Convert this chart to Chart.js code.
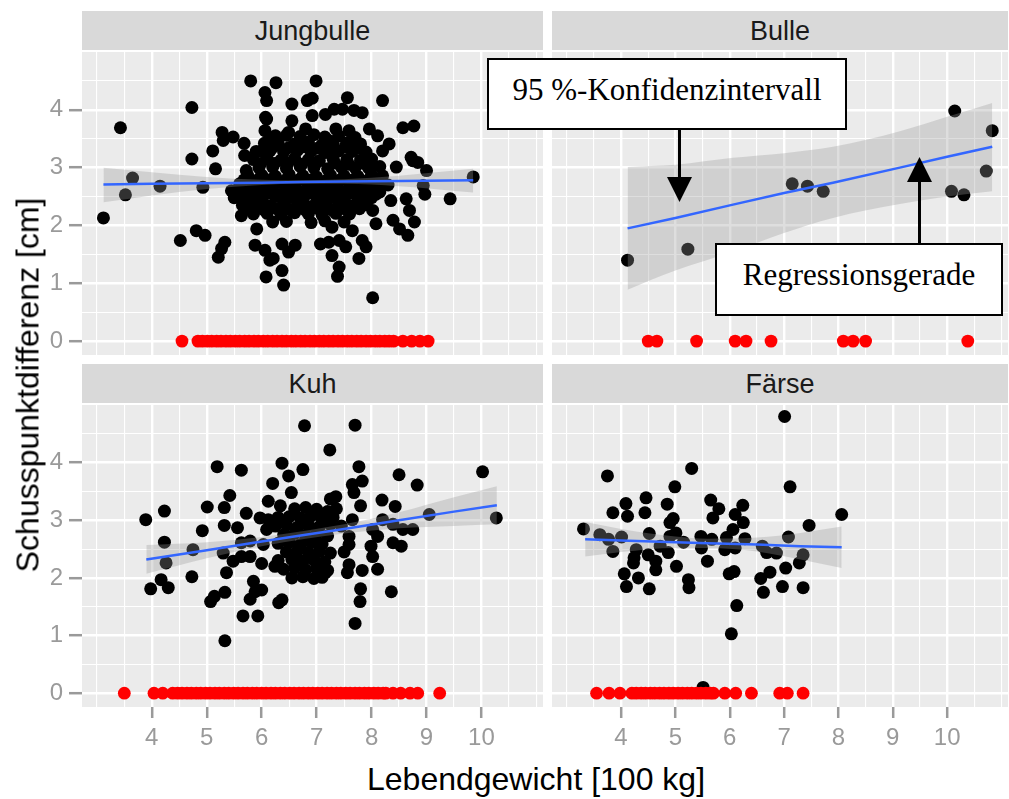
<!DOCTYPE html>
<html>
<head>
<meta charset="utf-8">
<script src="https://cdn.jsdelivr.net/npm/chart.js@4.4.1/dist/chart.umd.min.js"></script>
<style>
  body { margin: 0; background: #fff; }
  #wrap { position: relative; width: 1009px; height: 799px; font-family: "Liberation Sans", Arial, sans-serif; overflow: hidden; }
  canvas { position: absolute; }
  .strip { position: absolute; height: 39px; background: #d9d9d9; color: #1a1a1a; font-size: 27px; line-height: 41px; text-align: center; }
  .box { position: absolute; box-sizing: border-box; border: 2px solid #000; background: #fff; font-family: "Liberation Serif", "Times New Roman", serif; font-size: 31px; line-height: 60px; text-align: center; color: #000; }
  .title { position: absolute; font-size: 32px; color: #000; white-space: nowrap; }
</style>
</head>
<body>
<div id="wrap">
  <div class="strip" style="left:82px;top:11px;width:461px">Jungbulle</div>
  <div class="strip" style="left:552px;top:11px;width:456px">Bulle</div>
  <div class="strip" style="left:82px;top:364px;width:461px">Kuh</div>
  <div class="strip" style="left:552px;top:364px;width:456px">Färse</div>

  <canvas id="jungbulle" width="543" height="303" style="left:0;top:52px"></canvas>
  <canvas id="bulle" width="456" height="303" style="left:552px;top:52px"></canvas>
  <canvas id="kuh" width="543" height="352" style="left:0;top:405px"></canvas>
  <canvas id="faerse" width="456" height="352" style="left:552px;top:405px"></canvas>

  <div class="title" style="left:28px;top:385px;transform:translate(-50%,-50%) rotate(-90deg)">Schusspunktdifferenz [cm]</div>
  <div class="title" style="left:536px;top:760px;line-height:38px;transform:translateX(-50%)">Lebendgewicht [100 kg]</div>

  <div class="box" style="left:487px;top:58px;width:360px;height:72px">95 %-Konfidenzintervall</div>
  <div class="box" style="left:715px;top:243px;width:288px;height:73px">Regressionsgerade</div>
  <svg width="1009" height="799" style="position:absolute;left:0;top:0">
    <line x1="679.5" y1="130" x2="679.5" y2="179" stroke="#000" stroke-width="3"/>
    <polygon points="667,177 692,177 679.5,202" fill="#000"/>
    <line x1="919.5" y1="243" x2="919.5" y2="180" stroke="#000" stroke-width="3"/>
    <polygon points="907,182 932,182 919.5,157" fill="#000"/>
  </svg>
</div>

<script>
// Achsen / Raster
const xLim = [2.73, 11.12];
const yLim = [-0.24, 5.0];
const xMajor = [4, 5, 6, 7, 8, 9, 10];
const xMinor = [3, 3.5, 4.5, 5.5, 6.5, 7.5, 8.5, 9.5, 10.5, 11];
const yMajor = [0, 1, 2, 3, 4];
const yMinor = [0.5, 1.5, 2.5, 3.5, 4.5];

// Jungbulle
const jungbulleBlack = [
  [3.12,2.13],[3.43,3.69],[3.52,2.53],[3.65,2.82],[4.15,2.68],[4.52,1.74],[4.73,4.04],[4.73,3.15],
  [4.81,1.91],[4.93,2.66],[4.97,1.83],[5.11,3.29],[5.16,2.98],[5.21,1.45],[5.27,1.60],[5.33,1.71],
  [5.28,3.61],[5.30,3.47],[5.48,3.53],[5.63,2.17],[5.66,2.72],[5.68,3.42],[5.69,3.21],[5.72,2.95],
  [5.80,4.50],[5.88,1.66],[5.91,1.94],[6.00,3.29],[6.06,4.30],[6.06,3.64],[6.07,3.87],[6.09,4.16],
  [6.06,1.57],[6.15,1.40],[6.08,1.11],[6.21,1.43],[6.37,1.22],[6.40,0.97],[6.37,1.68],[6.61,1.66],
  [6.49,1.54],[6.26,4.47],[6.99,4.50],[6.55,4.10],[6.83,4.16],[6.92,4.20],[7.56,4.21],[8.20,4.16],
  [7.32,4.01],[7.47,4.01],[7.68,3.99],[7.83,3.95],[6.09,3.84],[6.55,3.81],[6.92,3.90],[7.16,3.92],
  [8.57,3.69],[8.77,3.72],[6.49,3.61],[6.80,3.67],[7.35,3.67],[7.59,3.64],[7.96,3.67],[8.11,3.55],
  [8.32,3.41],[8.20,3.29],[8.72,3.18],[8.84,3.09],[8.75,3.12],[9.00,2.95],[8.45,3.01],[9.85,2.84],
  [8.94,2.69],[9.43,2.46],[8.35,2.43],[8.63,2.46],[8.97,2.54],[8.69,2.26],[8.39,2.09],[8.78,2.06],
  [8.51,1.94],[8.66,1.83],[8.02,2.26],[8.08,2.03],[7.28,1.97],[7.65,1.91],[7.83,1.74],[7.90,1.63],
  [7.41,1.74],[7.07,1.68],[7.22,1.71],[7.53,1.63],[7.28,1.48],[7.77,1.43],[7.41,1.28],[7.38,1.12],
  [8.02,0.75],
  [6.25,3.55],[6.45,3.56],[6.70,3.54],[6.95,3.57],[7.15,3.53],[7.40,3.55],[7.70,3.52],
  [6.18,3.48],[6.72,3.48],[7.22,3.47],[7.65,3.48],
  [6.05,3.42],[6.30,3.43],[6.60,3.41],[6.85,3.44],[7.10,3.40],[7.30,3.42],[7.55,3.43],[7.80,3.41],
  [6.20,3.35],[6.50,3.35],[6.78,3.36],[7.03,3.34],[7.28,3.35],[7.52,3.36],[7.75,3.34],
  [5.90,3.28],[6.15,3.29],[6.40,3.27],[6.65,3.30],[6.90,3.28],[7.15,3.26],[7.40,3.29],[7.65,3.28],[7.90,3.27],
  [5.85,3.14],[6.10,3.15],[6.35,3.13],[6.60,3.16],[6.85,3.14],[7.05,3.12],[7.30,3.15],[7.55,3.14],[7.80,3.13],[8.00,3.15],
  [5.98,3.07],[6.23,3.07],[6.48,3.08],[6.73,3.06],[6.98,3.07],[7.33,3.08],[7.58,3.06],[7.87,3.07],
  [5.95,3.00],[6.20,3.01],[6.45,2.99],[6.70,3.02],[6.95,3.00],[7.20,2.98],[7.45,3.01],[7.70,3.00],[7.95,2.99],[8.15,3.02],
  [5.75,2.86],[6.00,2.87],[6.25,2.85],[6.50,2.88],[6.75,2.86],[7.00,2.84],[7.25,2.87],[7.50,2.86],[7.75,2.85],[8.00,2.87],[8.20,2.86],
  [5.68,2.79],[5.93,2.79],[6.18,2.80],[6.43,2.78],[6.68,2.79],[6.93,2.80],[7.18,2.78],[7.43,2.79],[7.68,2.80],[7.93,2.78],[8.15,2.79],
  [5.60,2.72],[5.85,2.73],[6.10,2.71],[6.35,2.74],[6.60,2.72],[6.85,2.70],[7.10,2.73],[7.35,2.72],[7.60,2.71],[7.85,2.73],[8.10,2.72],[8.30,2.70],
  [5.45,2.60],[5.70,2.61],[5.95,2.59],[6.20,2.62],[6.45,2.60],[6.70,2.58],[6.95,2.61],[7.20,2.60],[7.45,2.59],[7.70,2.61],[7.95,2.60],[8.15,2.58],
  [5.58,2.54],[5.83,2.54],[6.08,2.55],[6.33,2.53],[6.58,2.54],[6.83,2.55],[7.08,2.53],[7.33,2.54],[7.58,2.55],[7.83,2.53],[8.08,2.54],
  [5.50,2.48],[5.75,2.49],[6.00,2.47],[6.25,2.50],[6.50,2.48],[6.75,2.46],[7.00,2.49],[7.25,2.48],[7.50,2.47],[7.75,2.49],[8.00,2.48],
  [5.65,2.35],[5.90,2.36],[6.15,2.34],[6.40,2.37],[6.65,2.35],[6.90,2.33],[7.15,2.36],[7.40,2.35],[7.65,2.34],[7.90,2.36],
  [5.78,2.28],[6.03,2.28],[6.28,2.29],[6.53,2.27],[6.78,2.28],[7.03,2.29],[7.28,2.27],[7.53,2.28],[7.78,2.29],
  [5.85,2.20],[6.10,2.21],[6.35,2.19],[6.60,2.22],[6.85,2.20],[7.10,2.18],[7.35,2.21],[7.60,2.20],
  [6.20,2.06],[6.45,2.07],[6.90,2.05],[7.15,2.08],[7.50,2.06]
];
const jungbulleZero = [4.55,4.84,4.92,5.01,5.09,5.18,5.26,5.35,5.43,5.52,5.60,5.69,5.77,5.86,5.94,6.03,
  6.11,6.20,6.28,6.37,6.45,6.54,6.62,6.71,6.79,6.88,6.96,7.05,7.13,7.22,7.30,7.39,7.47,7.56,7.64,7.73,
  7.81,7.90,7.98,8.07,8.15,8.24,8.32,8.40,8.57,8.73,8.88,9.03];
const jungbulleFitX  = [3.12, 4, 5, 6, 6.7, 7.5, 8.5, 9.85];
const jungbulleFitY  = [2.71, 2.72, 2.73, 2.74, 2.75, 2.76, 2.77, 2.78];
const jungbulleFitLo = [2.40, 2.52, 2.63, 2.70, 2.72, 2.72, 2.68, 2.57];
const jungbulleFitHi = [3.00, 2.92, 2.84, 2.79, 2.78, 2.80, 2.86, 2.98];

// Bulle
const bulleBlack = [[4.12,1.40],[5.23,1.59],[7.15,2.72],[7.43,2.68],[7.72,2.59],[10.14,3.98],[10.08,2.59],
  [10.31,2.53],[10.72,2.94],[10.83,3.64]];
const bulleZero = [4.50, 4.66, 5.39, 6.10, 6.30, 6.76, 8.09, 8.27, 8.50, 10.38];
const bulleFitX  = [4.12, 5, 6.06, 7, 7.9, 9.13, 10, 10.83];
const bulleFitY  = [1.95, 2.13, 2.36, 2.56, 2.74, 3.00, 3.19, 3.36];
const bulleFitLo = [0.89, 1.22, 1.55, 1.87, 2.13, 2.37, 2.50, 2.59];
const bulleFitHi = [3.01, 3.05, 3.17, 3.25, 3.36, 3.63, 3.88, 4.12];

// Kuh
const kuhBlack = [
  [3.89,3.01],[3.98,1.81],[4.17,1.97],[4.23,3.16],[4.23,2.62],[4.26,2.26],[4.30,1.83],[4.73,2.02],
  [4.75,2.49],[4.92,2.82],[5.01,3.23],[5.07,1.59],[5.14,1.68],[5.19,3.93],[5.30,2.43],[5.32,3.22],
  [5.32,2.91],[5.33,1.75],[5.33,0.91],[5.36,2.09],[5.42,3.43],[5.48,2.29],[5.56,2.87],[5.63,3.87],
  [5.63,2.61],[5.63,2.37],[5.66,1.34],[5.72,3.12],[5.79,2.64],[5.79,2.37],[5.79,1.63],[5.85,1.94],
  [5.88,1.76],[5.93,1.34],[5.97,3.04],[6.00,2.25],[6.00,1.79],[6.03,2.58],[6.09,2.84],[6.12,3.33],
  [6.12,3.01],[6.20,3.64],[6.24,2.20],[6.31,1.57],[6.37,1.62],[6.34,3.25],[6.37,3.99],[6.49,3.77],
  [6.54,3.48],[6.75,3.88],[6.78,4.64],[7.24,4.22],[7.70,4.65],[7.77,3.93],[7.83,3.68],[7.65,3.62],
  [7.68,3.48],[8.50,3.79],[8.83,3.61],[10.02,3.84],[7.35,3.41],[7.25,3.37],[7.36,3.20],[7.80,3.25],
  [8.19,3.35],[8.43,3.24],[9.05,3.10],[10.27,3.04],[7.65,3.01],[8.20,3.01],[8.39,2.93],[8.75,2.84],
  [8.57,2.84],[8.02,2.84],[7.59,2.72],[8.11,2.72],[8.39,2.61],[8.54,2.55],[7.59,2.58],[7.99,2.55],
  [8.02,2.37],[7.59,2.23],[7.56,2.09],[7.83,2.13],[8.11,2.15],[7.16,2.09],[7.80,1.81],[7.79,1.59],
  [8.36,1.76],[7.70,1.21],[7.45,2.90],[7.50,2.45],
  [6.60,3.20],[6.80,3.22],[7.00,3.19],[7.20,3.15],
  [6.30,3.05],[6.50,3.06],[6.70,3.04],[6.90,3.07],[7.10,3.03],[7.30,3.05],
  [6.25,2.90],[6.45,2.92],[6.65,2.88],[6.85,2.91],[7.05,2.89],[7.25,2.93],
  [6.40,2.75],[6.60,2.77],[6.80,2.74],[7.00,2.76],[7.20,2.73],
  [6.30,2.60],[6.50,2.62],[6.70,2.58],[6.90,2.61],[7.10,2.59],
  [6.45,2.45],[6.65,2.47],[6.85,2.44],[7.05,2.46],[7.25,2.43],
  [6.30,2.30],[6.55,2.32],[6.75,2.29],[6.95,2.31],[7.15,2.28],
  [6.40,2.15],[6.60,2.17],[6.80,2.14],[7.00,2.16],[7.20,2.13],
  [6.55,2.00],[6.75,2.02],[6.95,1.99],[7.10,2.01]
];
const kuhZero = [3.50,4.04,4.20,4.38,4.47,4.55,4.64,4.72,4.81,4.89,4.98,5.06,5.15,5.23,5.32,5.40,5.49,
  5.57,5.66,5.74,5.83,5.91,6.00,6.08,6.17,6.25,6.34,6.42,6.51,6.59,6.68,6.76,6.85,6.93,7.02,7.10,7.19,
  7.27,7.36,7.44,7.53,7.61,7.70,7.78,7.87,7.95,8.04,8.12,8.21,8.26,8.39,8.53,8.70,8.84,9.24];
const kuhFitX  = [3.9, 5, 6, 6.8, 7.5, 8.5, 9.5, 10.28];
const kuhFitY  = [2.32, 2.48, 2.63, 2.75, 2.85, 3.00, 3.15, 3.26];
const kuhFitLo = [2.07, 2.34, 2.55, 2.68, 2.77, 2.86, 2.90, 2.93];
const kuhFitHi = [2.57, 2.62, 2.71, 2.82, 2.93, 3.14, 3.40, 3.59];

// Färse
const faerseBlack = [
  [3.31,2.85],[3.61,2.75],[3.75,3.77],[3.77,2.67],[3.85,3.13],[3.85,2.46],[4.01,2.71],[4.06,2.07],
  [4.09,3.29],[4.10,1.85],[4.12,3.07],[4.23,2.26],[4.24,2.35],[4.28,2.49],[4.32,2.00],[4.44,3.13],
  [4.46,3.39],[4.50,2.40],[4.52,2.77],[4.52,1.81],[4.64,2.29],[4.64,2.14],[4.72,2.55],[4.85,3.28],
  [4.87,2.44],[4.90,2.96],[4.90,2.72],[4.96,3.03],[4.99,3.58],[5.01,2.78],[5.02,2.20],[5.15,2.62],
  [5.24,1.97],[5.25,1.83],[5.30,3.90],[5.47,2.72],[5.48,2.52],[5.51,0.10],[5.59,2.29],[5.65,3.35],
  [5.67,2.67],[5.69,3.04],[5.80,3.20],[5.91,2.49],[5.94,2.70],[5.99,2.07],[6.03,1.03],[6.06,2.84],
  [6.08,2.11],[6.10,3.10],[6.10,2.52],[6.13,1.52],[6.24,3.26],[6.25,2.96],[6.28,2.68],[6.57,1.99],
  [6.60,2.55],[6.62,1.75],[6.68,2.44],[6.74,2.10],[6.86,2.43],[6.97,1.85],[7.01,4.80],[7.03,2.17],
  [7.08,2.71],[7.11,3.58],[7.28,2.26],[7.35,2.40],[7.35,1.83],[7.46,2.91],[8.06,3.10]
];
const faerseZero = [3.55,3.78,3.98,4.20,4.28,4.37,4.45,4.54,4.62,4.71,4.79,4.88,4.96,5.05,5.13,5.22,
  5.30,5.39,5.47,5.56,5.64,5.70,5.91,6.11,6.40,6.92,7.06,7.35];
const faerseFitX  = [3.34, 4, 5, 5.6, 6.5, 7.3, 8.06];
const faerseFitY  = [2.67, 2.65, 2.62, 2.60, 2.58, 2.55, 2.53];
const faerseFitLo = [2.37, 2.45, 2.52, 2.52, 2.46, 2.32, 2.17];
const faerseFitHi = [2.97, 2.85, 2.72, 2.68, 2.70, 2.78, 2.89];

const tickGrey = '#9a9a9a';
const fontFam = '"Liberation Sans", Arial, sans-serif';

// grauer Panelhintergrund
const panelBg = {
  id: 'panelBg',
  beforeDraw(chart) {
    const { ctx, chartArea: a } = chart;
    ctx.save();
    ctx.fillStyle = '#ebebeb';
    ctx.fillRect(a.left, a.top, a.right - a.left, a.bottom - a.top);
    ctx.restore();
  }
};

function isMajor(c, list) {
  return c.tick && list.includes(c.tick.value);
}

function axis(lim, major, minor, show, isX) {
  const grid = major.concat(minor).sort((a, b) => a - b);
  return {
    type: 'linear',
    min: lim[0],
    max: lim[1],
    afterBuildTicks: s => { s.ticks = grid.map(v => ({ value: v })); },
    afterFit: s => {
      if (isX) s.height = show ? 50 : 0;
      else s.width = show ? 82 : 0;
      // keine Extra-Abstände für Randbeschriftungen
      s.paddingTop = 0; s.paddingBottom = 0; s.paddingLeft = 0; s.paddingRight = 0;
    },
    border: { display: false },
    grid: {
      color: '#ffffff',
      lineWidth: c => isMajor(c, major) ? 2.4 : 1.1,
      drawTicks: show,
      tickLength: isX ? 11 : 13,
      tickWidth: 2.5,
      tickColor: c => isMajor(c, major) ? tickGrey : 'rgba(0,0,0,0)'
    },
    ticks: {
      display: show,
      autoSkip: false,
      maxRotation: 0,
      padding: 6,
      color: tickGrey,
      font: { family: fontFam, size: 24 },
      callback: v => major.includes(v) ? String(v) : ''
    }
  };
}

function panel(id, black, zero, fx, fy, lo, hi, showX, showY) {
  const pts = black.map(p => ({ x: p[0], y: p[1] }));
  new Chart(document.getElementById(id), {
    type: 'line',
    data: {
      datasets: [
        { data: fx.map((x, i) => ({ x, y: fy[i] })), borderColor: '#3366ff', borderWidth: 2.5,
          pointRadius: 0, fill: false, order: 0 },
        { data: fx.map((x, i) => ({ x, y: hi[i] })), borderWidth: 0, pointRadius: 0,
          fill: '+1', backgroundColor: 'rgba(153,153,153,0.32)', cubicInterpolationMode: 'monotone', order: 1 },
        { data: fx.map((x, i) => ({ x, y: lo[i] })), borderWidth: 0, pointRadius: 0,
          fill: false, cubicInterpolationMode: 'monotone', order: 1 },
        { data: zero.map(x => ({ x, y: 0 })), showLine: false, pointRadius: 6.4,
          backgroundColor: '#ff0000', borderWidth: 0, order: 2 },
        { data: pts, showLine: false, pointRadius: 6.5,
          backgroundColor: '#000000', borderWidth: 0, order: 3 }
      ]
    },
    options: {
      responsive: false,
      animation: false,
      devicePixelRatio: 1,
      layout: { padding: 0, autoPadding: false },
      plugins: { legend: { display: false }, tooltip: { enabled: false } },
      scales: {
        x: axis(xLim, xMajor, xMinor, showX, true),
        y: axis(yLim, yMajor, yMinor, showY, false)
      }
    },
    plugins: [panelBg]
  });
}

panel('jungbulle', jungbulleBlack, jungbulleZero, jungbulleFitX, jungbulleFitY, jungbulleFitLo, jungbulleFitHi, false, true);
panel('bulle', bulleBlack, bulleZero, bulleFitX, bulleFitY, bulleFitLo, bulleFitHi, false, false);
panel('kuh', kuhBlack, kuhZero, kuhFitX, kuhFitY, kuhFitLo, kuhFitHi, true, true);
panel('faerse', faerseBlack, faerseZero, faerseFitX, faerseFitY, faerseFitLo, faerseFitHi, true, false);
</script>
</body>
</html>
